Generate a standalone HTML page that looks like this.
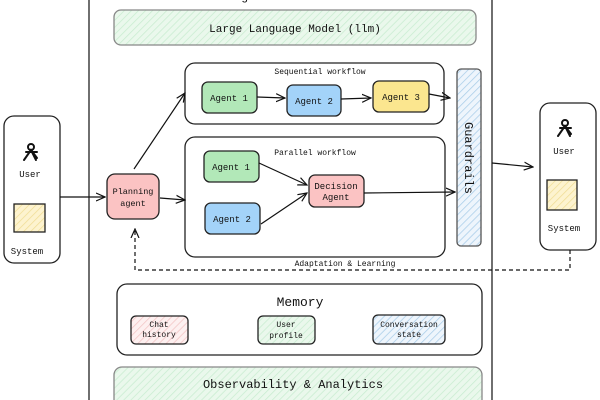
<!DOCTYPE html>
<html><head><style>body{margin:0;background:#fff}svg{display:block}</style></head><body>
<svg width="600" height="400" xmlns="http://www.w3.org/2000/svg" font-family="Liberation Mono, monospace" fill="none">
<defs>
<pattern id="hg" width="5" height="5" patternUnits="userSpaceOnUse" patternTransform="rotate(45)"><rect width="5" height="5" fill="#eaf8ec"/><line x1="0" y1="0" x2="0" y2="5" stroke="#c8ecd0" stroke-width="1.5"/></pattern>
<pattern id="hb" width="5" height="5" patternUnits="userSpaceOnUse" patternTransform="rotate(45)"><rect width="5" height="5" fill="#eef5fc"/><line x1="0" y1="0" x2="0" y2="5" stroke="#a9cde8" stroke-width="1.5"/></pattern>
<pattern id="hp" width="5" height="5" patternUnits="userSpaceOnUse" patternTransform="rotate(45)"><rect width="5" height="5" fill="#fdf0f0"/><line x1="0" y1="0" x2="0" y2="5" stroke="#f2c4c4" stroke-width="1.5"/></pattern>
<pattern id="hy" width="5" height="5" patternUnits="userSpaceOnUse" patternTransform="rotate(45)"><rect width="5" height="5" fill="#fdf3cf"/><line x1="0" y1="0" x2="0" y2="5" stroke="#f0dd95" stroke-width="1.5"/></pattern>
<marker id="a" markerWidth="10" markerHeight="10" refX="9" refY="5" orient="auto" markerUnits="userSpaceOnUse"><path d="M0,1 L9,5 L0,9" stroke="#111" stroke-width="1.2" fill="none"/></marker>
</defs>
<g stroke="#222" stroke-width="1.3">
<path d="M89,-5 V405 M492,-5 V405"/>
<rect x="114" y="10" width="362" height="35" rx="7" fill="url(#hg)" stroke="#888"/>
<rect x="185" y="63" width="259" height="61" rx="10" fill="#fff"/>
<rect x="202" y="82" width="55" height="31" rx="6" fill="#b2e8b8"/>
<rect x="287" y="85" width="54" height="31" rx="6" fill="#a3d3f9"/>
<rect x="373" y="81" width="56" height="31" rx="6" fill="#fbe68f"/>
<rect x="457" y="69" width="24" height="177" rx="4" fill="url(#hb)" stroke="#555"/>
<rect x="185" y="137" width="260" height="120" rx="10" fill="#fff"/>
<rect x="204" y="151" width="55" height="31" rx="6" fill="#b2e8b8"/>
<rect x="205" y="203" width="55" height="31" rx="6" fill="#a3d3f9"/>
<rect x="309" y="175" width="55" height="32" rx="6" fill="#fbc3c3"/>
<rect x="107" y="174" width="52" height="45" rx="8" fill="#fbc3c3"/>
<rect x="4" y="116" width="56" height="147" rx="10" fill="#fff"/>
<rect x="14" y="204" width="31" height="28" fill="url(#hy)"/>
<rect x="540" y="103" width="56" height="147" rx="10" fill="#fff"/>
<rect x="547" y="180" width="30" height="30" fill="url(#hy)"/>
<rect x="117" y="284" width="365" height="71" rx="10" fill="#fff"/>
<rect x="131" y="316" width="57" height="28" rx="5" fill="url(#hp)"/>
<rect x="258" y="316" width="57" height="28" rx="5" fill="url(#hg)"/>
<rect x="373" y="315" width="72" height="29" rx="5" fill="url(#hb)"/>
<rect x="114" y="367" width="368" height="45" rx="8" fill="url(#hg)" stroke="#888"/>
</g>
<g stroke="#111" stroke-width="1.2" marker-end="url(#a)">
<path d="M257,97 L285,98"/>
<path d="M341,99 L371,98"/>
<path d="M429,94 L450,98"/>
<path d="M60,197 L105,197"/>
<path d="M134,169 L185,93"/>
<path d="M160,198 L185,200"/>
<path d="M259,163 L307,185"/>
<path d="M261,224 L307,193"/>
<path d="M364,193 L455,192"/>
<path d="M492,163 L533,167"/>
<path d="M570,250 V270 H135 V229" stroke-dasharray="4,3"/>
</g>
<g fill="#111" stroke="none" font-size="9" text-anchor="middle">
<text x="295" y="0" font-size="12">Agentic Framework</text>
<text x="295" y="32" font-size="11">Large Language Model (llm)</text>
<text x="320" y="74" font-size="8">Sequential workflow</text>
<text x="229" y="101">Agent 1</text>
<text x="314" y="104">Agent 2</text>
<text x="401" y="100">Agent 3</text>
<text x="315" y="155" font-size="8">Parallel workflow</text>
<text x="231" y="170">Agent 1</text>
<text x="232" y="222">Agent 2</text>
<text x="336" y="189">Decision</text>
<text x="336" y="200">Agent</text>
<text x="133" y="194" font-size="8.5">Planning</text>
<text x="133" y="206" font-size="8.5">agent</text>
<text x="30" y="177">User</text>
<text x="27" y="254">System</text>
<text x="564" y="154">User</text>
<text x="564" y="231">System</text>
<text x="345" y="266" font-size="8">Adaptation &amp; Learning</text>
<text x="300" y="306" font-size="13">Memory</text>
<text x="159" y="327" font-size="8">Chat</text>
<text x="159" y="337" font-size="8">history</text>
<text x="286" y="327" font-size="8">User</text>
<text x="286" y="338" font-size="8">profile</text>
<text x="409" y="327" font-size="8">Conversation</text>
<text x="409" y="337" font-size="8">state</text>
<text x="293" y="388" font-size="12">Observability &amp; Analytics</text>
<text transform="translate(465,158) rotate(90)" font-size="12">Guardrails</text>
</g>
<g stroke="#111" stroke-width="2" stroke-linecap="round">
<circle cx="31" cy="147" r="3"/><path d="M24,160 L31,150 L37,158 M26,152 H37 M31,150 L36,160"/>
<circle cx="565" cy="123" r="3"/><path d="M558,136 L565,126 L571,134 M560,128 H571 M565,126 L570,136"/>
</g>
</svg>
</body></html>
